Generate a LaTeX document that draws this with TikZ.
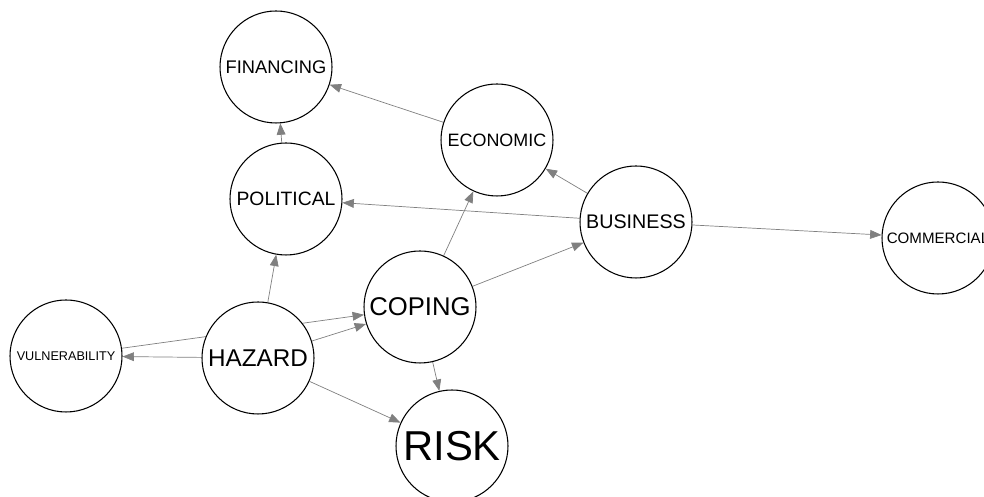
\documentclass[tikz,border=0pt]{standalone}
\usepackage{fontspec}
\setmainfont{Liberation Sans}
\usepackage{tikz}
\usetikzlibrary{arrows.meta,backgrounds}

\begin{document}
\begin{tikzpicture}[line width = 0.6pt,
                        vertex/.style = {circle, draw, fill = white, inner sep = 0pt, minimum size = 2.24cm},
                        edge/.style = {draw = gray, -{Triangle[length = 6.5pt, width = 5pt]}}]
      \useasboundingbox (0, 0) rectangle (19.68, 9.94);
      \node [vertex, font=\fontsize{10.4}{12}\selectfont] (financing) at (5.52, 8.60) {FINANCING};
      \node [vertex, font=\fontsize{10.2}{12}\selectfont] (economic) at (9.94, 7.14) {ECONOMIC};
      \node [vertex, font=\fontsize{11}{12}\selectfont] (political) at (5.72, 5.96) {POLITICAL};
      \node [vertex, font=\fontsize{11.2}{12}\selectfont] (business) at (12.72, 5.50) {BUSINESS};
      \node [vertex, font=\fontsize{8.6}{10}\selectfont] (commercial) at (18.76, 5.18) {COMMERCIAL};
      \node [vertex, font=\fontsize{14.6}{16}\selectfont] (coping) at (8.40, 3.80) {COPING};
      \node [vertex, font=\fontsize{7.2}{9}\selectfont] (vulnerability) at (1.32, 2.82) {VULNERABILITY};
      \node [vertex, font=\fontsize{13.8}{16}\selectfont] (hazard) at (5.16, 2.78) {HAZARD};
      \node [vertex, font=\fontsize{23.8}{26}\selectfont] (risk) at (9.04, 1.02) {RISK};
      \begin{scope}[on background layer]
        \draw [edge] (economic) -- (financing);
        \draw [edge] (political) -- (financing);
        \draw [edge] (business) -- (economic);
        \draw [edge] (business) -- (political);
        \draw [edge] (business) -- (commercial);
        \draw [edge] (coping) -- (economic);
        \draw [edge] (coping) -- (business);
        \draw [edge] (coping) -- (risk);
        \draw [edge] (hazard) -- (political);
        \draw [edge] (hazard) -- (vulnerability);
        \draw [edge] (hazard) -- (coping);
        \draw [edge] (hazard) -- (risk);
        \draw [edge] (vulnerability) -- (coping);
      \end{scope}
    \end{tikzpicture}
\end{document}
